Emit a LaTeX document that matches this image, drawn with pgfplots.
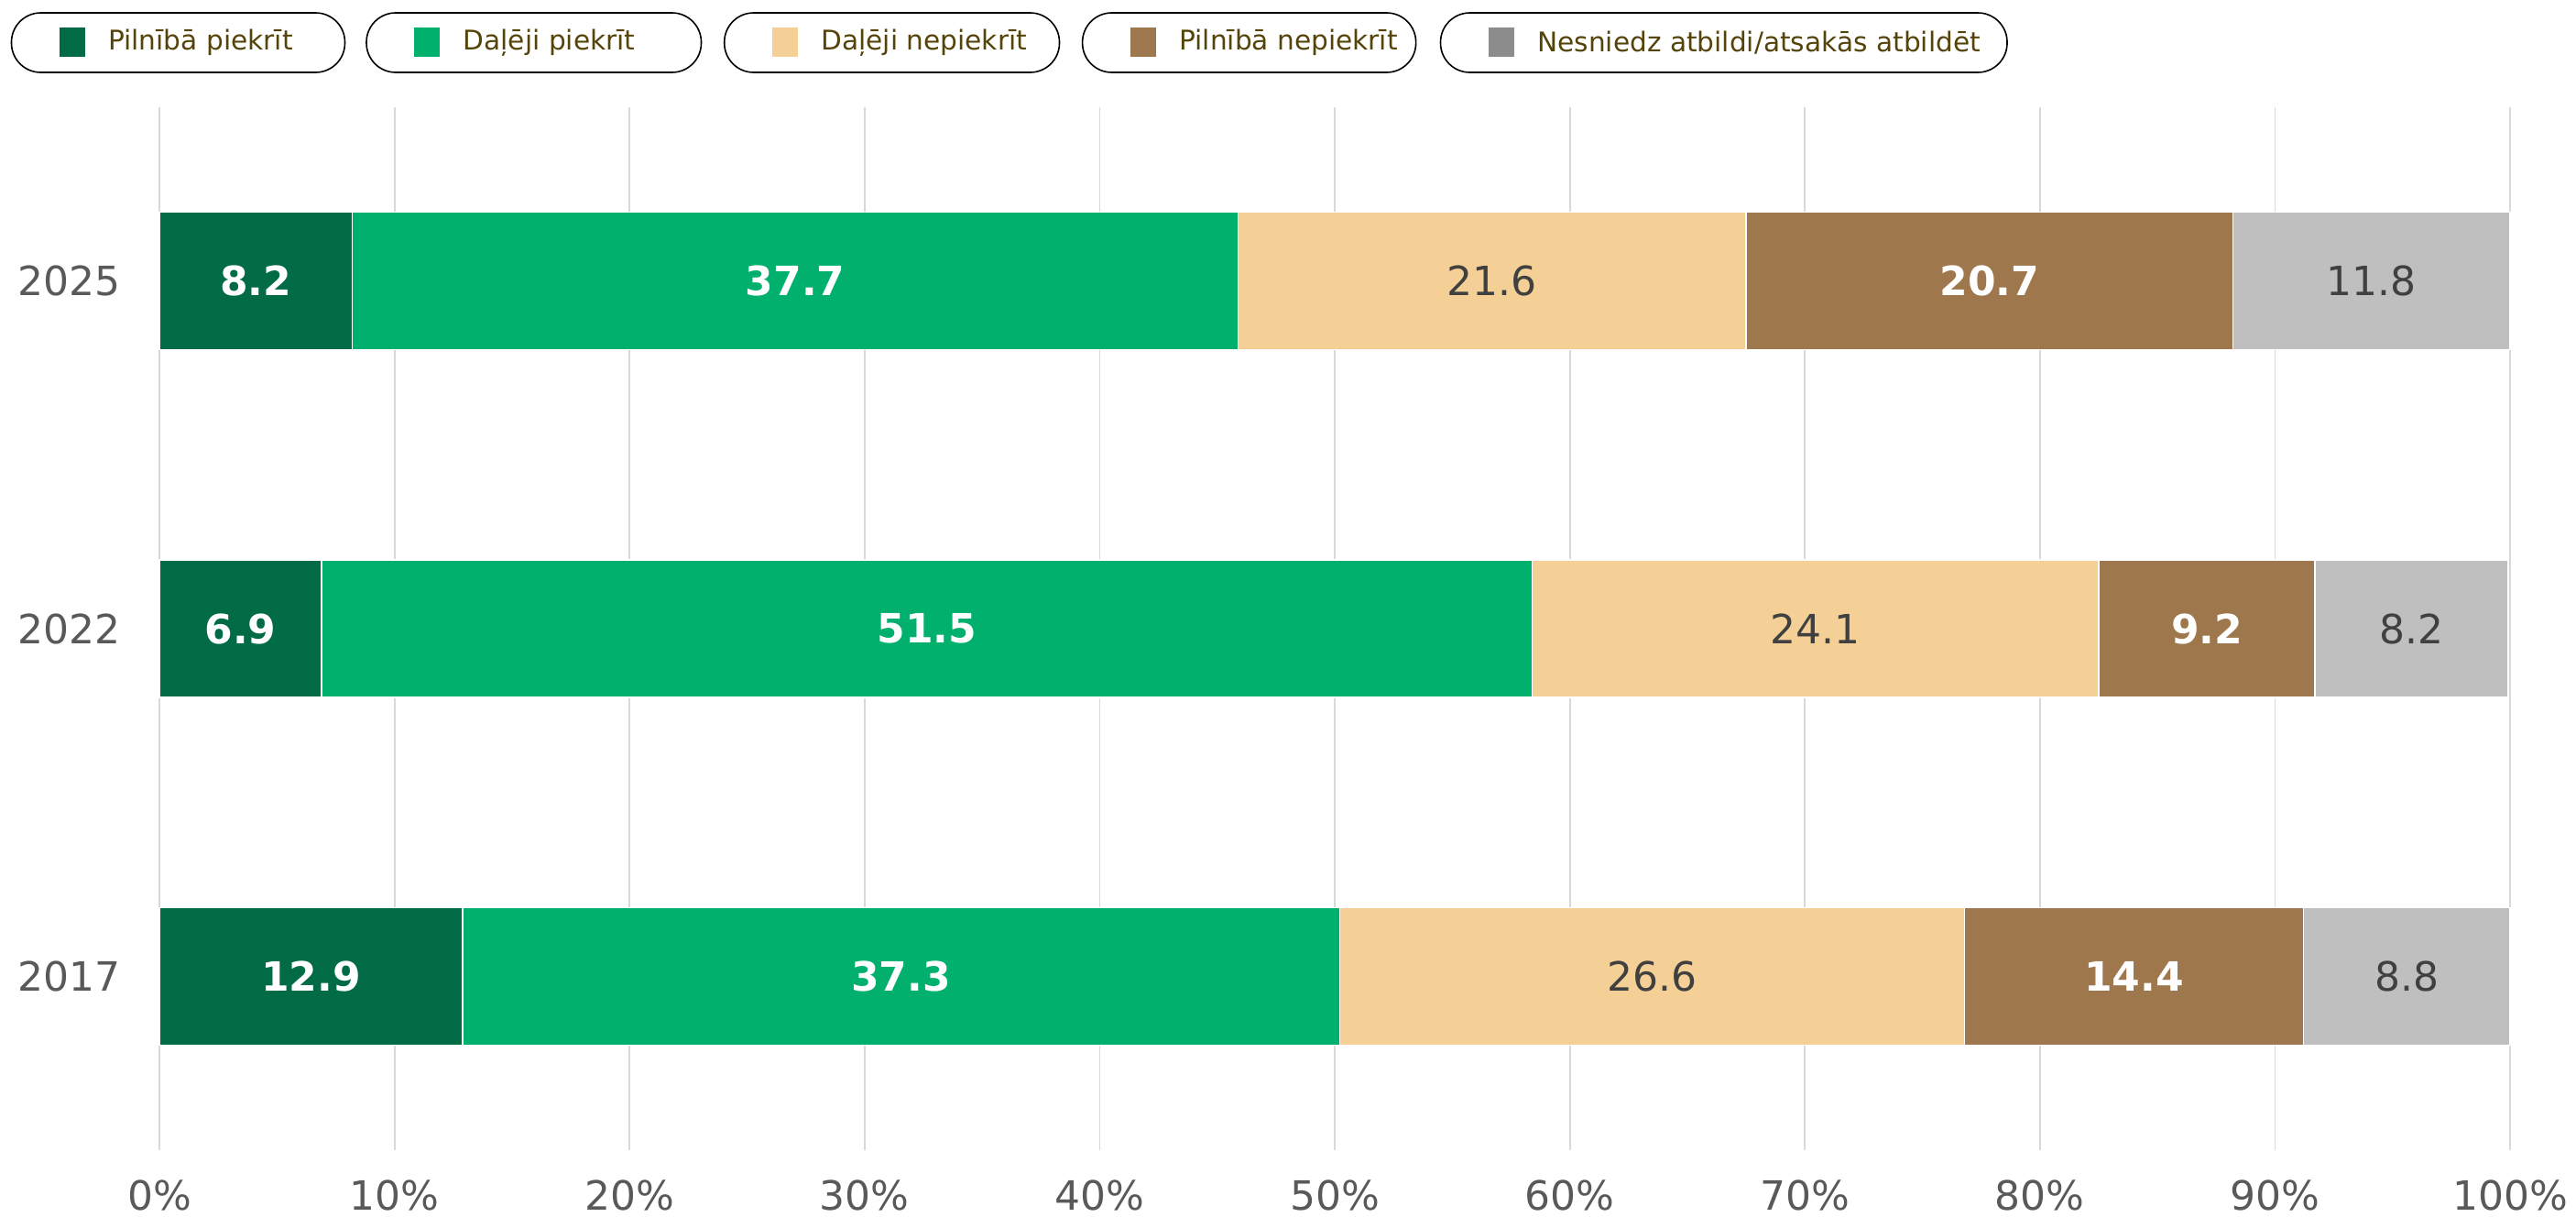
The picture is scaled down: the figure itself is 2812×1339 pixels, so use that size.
\documentclass[border=0pt]{standalone}
\usepackage{pgfplots}
\pgfplotsset{compat=1.18}
\usepackage{pgfplotstable}
\usepackage{fontspec}
\setmainfont{DejaVu Sans}
\definecolor{cA}{RGB}{0,107,69}
\definecolor{cB}{RGB}{0,176,108}
\definecolor{cC}{RGB}{244,208,150}
\definecolor{cD}{RGB}{158,120,76}
\definecolor{cE}{RGB}{191,191,191}
\definecolor{cEleg}{RGB}{140,140,140}
\definecolor{legtxt}{RGB}{84,68,10}
\definecolor{ticktxt}{RGB}{89,89,89}
\definecolor{valtxt}{RGB}{64,64,64}
\definecolor{gridc}{RGB}{217,217,217}

\pgfplotstableread{
y a b c d e
0 12.9 37.3 26.6 14.4 8.8
1 6.9 51.5 24.1 9.2 8.2
2 8.2 37.7 21.6 20.7 11.8
}\data

\begin{document}
\begin{tikzpicture}[x=0.25pt,y=-0.25pt]
\useasboundingbox (0,0) rectangle (2812,1339);
\begin{axis}[
  at={(43.5pt,-313.75pt)}, anchor=south west,
  scale only axis, width=641.5pt, height=284.5pt,
  xbar stacked, bar width=37.5pt,
  xmin=0, xmax=100, ymin=-0.5, ymax=2.5,
  xtick={0,10,...,100},
  xticklabels={0\%,10\%,20\%,30\%,40\%,50\%,60\%,70\%,80\%,90\%,100\%},
  ytick={0,1,2}, yticklabels={2017,2022,2025},
  xmajorgrids, grid style={draw=gridc, line width=0.45pt},
  axis line style={draw=none},
  major tick length=0pt,
  /pgf/number format/assume math mode=true,
  tick label style={font=\fontsize{11}{13}\selectfont, text=ticktxt},
  xticklabel style={yshift=-4.75pt},
  yticklabel style={xshift=-7pt},
  nodes near coords={\pgfmathprintnumber[fixed,precision=1,fixed zerofill]{\pgfplotspointmeta}},
  point meta=explicit,
  every node near coord/.append style={font=\fontsize{11}{13}\selectfont, anchor=center},
  clip=false,
]
\addplot[fill=cA, draw=white, line width=0.3pt,
  every node near coord/.append style={text=white, font=\fontsize{11}{13}\selectfont\bfseries}]
  table[x=a, y=y, meta=a] {\data};
\addplot[fill=cB, draw=white, line width=0.3pt,
  every node near coord/.append style={text=white, font=\fontsize{11}{13}\selectfont\bfseries}]
  table[x=b, y=y, meta=b] {\data};
\addplot[fill=cC, draw=white, line width=0.3pt,
  every node near coord/.append style={text=valtxt}]
  table[x=c, y=y, meta=c] {\data};
\addplot[fill=cD, draw=white, line width=0.3pt,
  every node near coord/.append style={text=white, font=\fontsize{11}{13}\selectfont\bfseries}]
  table[x=d, y=y, meta=d] {\data};
\addplot[fill=cE, draw=white, line width=0.3pt,
  every node near coord/.append style={text=valtxt}]
  table[x=e, y=y, meta=e] {\data};
\end{axis}
% legend
\foreach \bx/\bw/\col/\txt in {
  12.5/364/cA/{Pilnībā piekrīt},
  400/365.5/cB/{Daļēji piekrīt},
  790.7/365.8/cC/{Daļēji nepiekrīt},
  1181.6/364/cD/{Pilnībā nepiekrīt},
  1572.5/618.5/cEleg/{Nesniedz atbildi/atsakās atbildēt}} {
  \draw[line width=0.4pt, rounded corners=8pt] (\bx,14) rectangle ++(\bw,65);
  \fill[\col] (\bx+52,30) rectangle ++(28,32);
  \node[anchor=west, inner sep=0pt, text=legtxt, font=\fontsize{7.4}{9}\selectfont] at (\bx+105,46.5) {\txt};
}
\end{tikzpicture}
\end{document}
